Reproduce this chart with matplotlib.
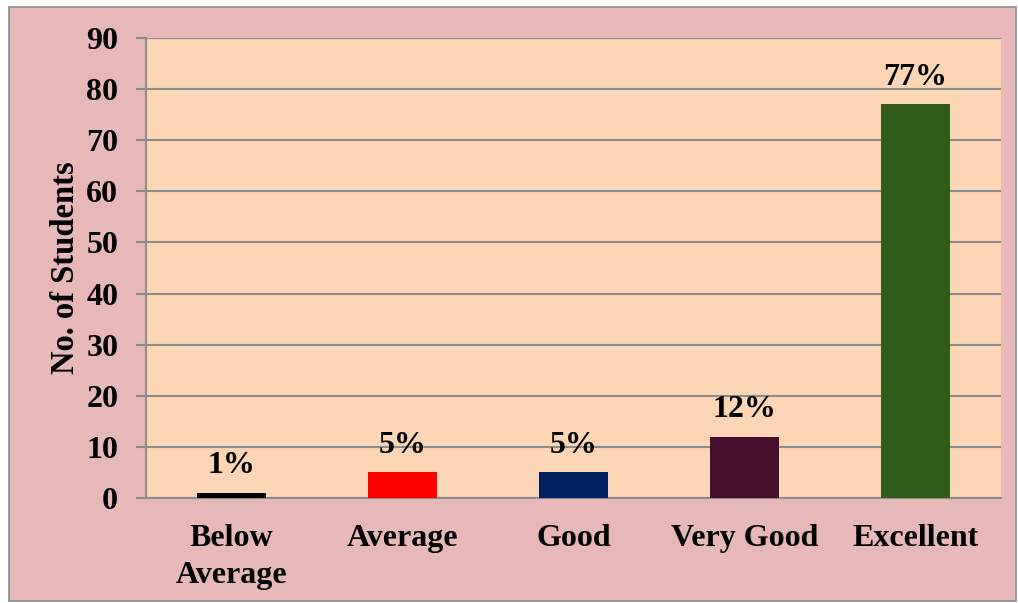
import matplotlib
matplotlib.use("Agg")
import matplotlib.pyplot as plt
from matplotlib.patches import Rectangle

categories = ["Below\nAverage", "Average", "Good", "Very Good", "Excellent"]
values = [1, 5, 5, 12, 77]
labels = ["1%", "5%", "5%", "12%", "77%"]
colors = ["#000000", "#FF0000", "#002060", "#450E2D", "#325B1A"]
yticks = [0, 10, 20, 30, 40, 50, 60, 70, 80, 90]

plt.rcParams['font.family'] = ['Liberation Serif', 'DejaVu Serif']
plt.rcParams['font.weight'] = 'bold'

W, H = 1018, 603
fig = plt.figure(figsize=(W / 100, H / 100), dpi=100)
fig.patch.set_facecolor("white")
fig.patches.append(Rectangle((9 / W, 2 / H), (1016 - 9) / W, (596 - 2) / H,
                             transform=fig.transFigure, facecolor="#E6B8B7",
                             edgecolor="#8C8C8C", linewidth=1.2, zorder=-10))

ax = fig.add_axes([146 / W, 1 - 498 / H, (1001 - 146) / W, (498 - 38) / H])
ax.set_zorder(1)
ax.set_facecolor("#FCD5B4")
x = range(len(categories))
bars = ax.bar(x, values, width=0.40, color=colors, zorder=3)
for xi, v, lab in zip(x, values, labels):
    ax.annotate(lab, (xi, v), xytext=(0, 9), textcoords="offset points",
                ha="center", va="bottom", fontsize=23, fontweight="bold")

ax.set_ylim(0, 90)
ax.set_xlim(-0.5, 4.5)
ax.set_yticks(yticks)
ax.set_xticks(list(x))
ax.set_xticklabels(categories, fontsize=23, fontweight="bold", linespacing=1.35)
ax.tick_params(axis="y", labelsize=23, length=7, width=1.5, color="#8C8C8C", pad=13)
ax.tick_params(axis="x", length=0, pad=19)
for t in ax.get_yticklabels():
    t.set_fontweight("bold")
ax.grid(axis="y", color="#8C8C8C", linewidth=1.5, zorder=1)
for s in ["top", "right"]:
    ax.spines[s].set_visible(False)
ax.spines["left"].set_color("#8C8C8C")
ax.spines["left"].set_linewidth(1.5)
ax.spines["bottom"].set_color("#8C8C8C")
ax.spines["bottom"].set_linewidth(1.5)
ax.set_ylabel("No. of Students", fontsize=23.5, fontweight="bold", labelpad=4)

fig.savefig("out.png", dpi=100, facecolor=fig.get_facecolor())
